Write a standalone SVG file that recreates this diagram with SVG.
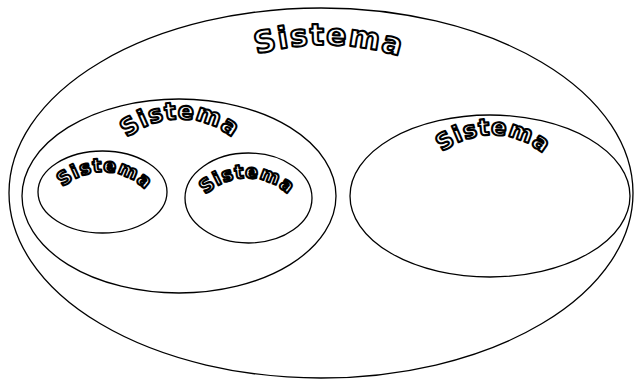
<svg xmlns="http://www.w3.org/2000/svg" xmlns:xlink="http://www.w3.org/1999/xlink" width="634" height="381" viewBox="0 0 634 381">
<style>
.sys{fill:#fff;stroke:#000;stroke-width:1.3}
.lbl{font-family:"DejaVu Sans",Verdana,sans-serif;font-weight:bold;fill:#fff;stroke:#000;stroke-width:2.1;stroke-linejoin:round;text-anchor:middle}
</style>
<defs>
<path id="p0" d="M 70,300 A 255,255 0 0 1 580,300"/>
<path id="p1" d="M 97,202 A 83,83 0 0 1 263,202"/>
<path id="p2" d="M 43,232 A 60,60 0 0 1 163,232"/>
<path id="p3" d="M 187,238 A 60,60 0 0 1 307,238"/>
<path id="p4" d="M 412,215 A 80,80 0 0 1 572,215"/>
</defs>
<rect width="634" height="381" fill="#fff"/>
<g id="outer">
<ellipse class="sys" cx="321" cy="193" rx="312" ry="185"/>
<text class="lbl" font-size="30" letter-spacing="1.5"><textPath xlink:href="#p0" startOffset="50.5%">Sistema</textPath></text>
</g>
<g id="left">
<ellipse class="sys" cx="179" cy="196" rx="157" ry="97"/>
<text class="lbl" font-size="24" letter-spacing="0.8"><textPath xlink:href="#p1" startOffset="50%">Sistema</textPath></text>
</g>
<g id="small1">
<ellipse class="sys" cx="102.5" cy="192" rx="64.5" ry="41"/>
<text class="lbl" font-size="19" letter-spacing="0.8"><textPath xlink:href="#p2" startOffset="51%">Sistema</textPath></text>
</g>
<g id="small2">
<ellipse class="sys" cx="248.5" cy="198" rx="63.5" ry="45"/>
<text class="lbl" font-size="19" letter-spacing="0.8"><textPath xlink:href="#p3" startOffset="50%">Sistema</textPath></text>
</g>
<g id="right">
<ellipse class="sys" cx="490" cy="196" rx="140" ry="81"/>
<text class="lbl" font-size="23" letter-spacing="0.8"><textPath xlink:href="#p4" startOffset="50.5%">Sistema</textPath></text>
</g>
<g id="connectors"/>
</svg>
